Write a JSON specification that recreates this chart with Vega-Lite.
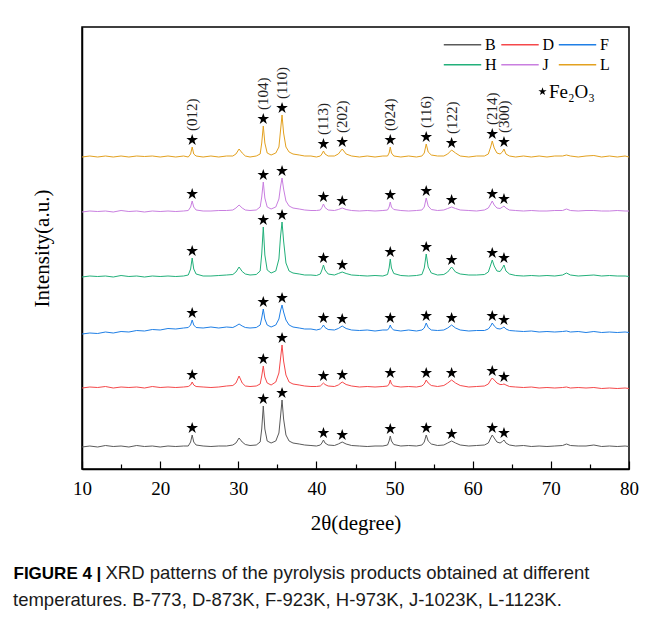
{
"$schema": "https://vega.github.io/schema/vega-lite/v6.json",
"width": 547, "height": 442,
"autosize": "none",
"padding": {"left": 82, "top": 27, "right": 26, "bottom": 151},
"background": "white",
"title": {
 "text": "temperatures. B-773, D-873K, F-923K, H-973K, J-1023K, L-1123K.",
 "orient": "bottom", "anchor": "start", "frame": "group", "dx": -69, "offset": 9,
 "font": "Liberation Sans", "fontSize": 18.5, "fontWeight": "normal", "color": "#1a1a1a"
},
"datasets": {
"lines": [
{"s":"B","t":10,"I":22},{"s":"B","t":11,"I":23},{"s":"B","t":12,"I":22},{"s":"B","t":13,"I":23.5},{"s":"B","t":14,"I":22.5},{"s":"B","t":15,"I":23},{"s":"B","t":16,"I":22},{"s":"B","t":17,"I":23.5},{"s":"B","t":18,"I":22.5},{"s":"B","t":19,"I":23},
{"s":"B","t":20,"I":22},{"s":"B","t":21,"I":23},{"s":"B","t":22,"I":22.5},{"s":"B","t":23,"I":23},{"s":"B","t":23.6,"I":23},{"s":"B","t":23.9,"I":27},{"s":"B","t":24.1,"I":34},{"s":"B","t":24.3,"I":27},{"s":"B","t":24.6,"I":24},{"s":"B","t":25.5,"I":23},
{"s":"B","t":26.5,"I":22.5},{"s":"B","t":27.5,"I":23},{"s":"B","t":28.5,"I":23},{"s":"B","t":29.3,"I":24},{"s":"B","t":29.7,"I":26},{"s":"B","t":30.1,"I":31},{"s":"B","t":30.5,"I":27},{"s":"B","t":30.9,"I":24.5},{"s":"B","t":31.5,"I":23.5},{"s":"B","t":32.3,"I":24},
{"s":"B","t":32.8,"I":27},{"s":"B","t":33.0,"I":40},{"s":"B","t":33.2,"I":63},{"s":"B","t":33.4,"I":40},{"s":"B","t":33.7,"I":28},{"s":"B","t":34.2,"I":26},{"s":"B","t":34.8,"I":28},{"s":"B","t":35.2,"I":36},{"s":"B","t":35.4,"I":52},{"s":"B","t":35.6,"I":69},
{"s":"B","t":35.8,"I":50},{"s":"B","t":36.1,"I":34},{"s":"B","t":36.5,"I":28},{"s":"B","t":37,"I":26},{"s":"B","t":37.8,"I":25},{"s":"B","t":38.5,"I":24},{"s":"B","t":39.3,"I":23.5},{"s":"B","t":40,"I":23},{"s":"B","t":40.5,"I":24},{"s":"B","t":40.7,"I":26},
{"s":"B","t":40.9,"I":29},{"s":"B","t":41.1,"I":26},{"s":"B","t":41.5,"I":24},{"s":"B","t":42.3,"I":23.5},{"s":"B","t":42.8,"I":25},{"s":"B","t":43.3,"I":27},{"s":"B","t":43.8,"I":25},{"s":"B","t":44.5,"I":23.5},{"s":"B","t":45.5,"I":23},{"s":"B","t":46.5,"I":22.5},
{"s":"B","t":47.5,"I":23},{"s":"B","t":48.5,"I":23},{"s":"B","t":49.1,"I":24},{"s":"B","t":49.3,"I":28},{"s":"B","t":49.45,"I":33},{"s":"B","t":49.6,"I":28},{"s":"B","t":49.9,"I":24.5},{"s":"B","t":50.8,"I":23},{"s":"B","t":51.8,"I":23.5},{"s":"B","t":52.8,"I":23},
{"s":"B","t":53.5,"I":24},{"s":"B","t":53.8,"I":27},{"s":"B","t":54.05,"I":34},{"s":"B","t":54.3,"I":28},{"s":"B","t":54.7,"I":25},{"s":"B","t":55.5,"I":23.5},{"s":"B","t":56.3,"I":24},{"s":"B","t":56.8,"I":26},{"s":"B","t":57.3,"I":28},{"s":"B","t":57.8,"I":26},
{"s":"B","t":58.4,"I":24},{"s":"B","t":59.5,"I":23},{"s":"B","t":60.5,"I":23.5},{"s":"B","t":61.5,"I":24},{"s":"B","t":62.0,"I":26},{"s":"B","t":62.3,"I":31},{"s":"B","t":62.5,"I":34},{"s":"B","t":62.75,"I":31},{"s":"B","t":63.1,"I":27},{"s":"B","t":63.5,"I":26},
{"s":"B","t":63.8,"I":27.5},{"s":"B","t":64.0,"I":29},{"s":"B","t":64.25,"I":26},{"s":"B","t":64.7,"I":24},{"s":"B","t":65.5,"I":23},{"s":"B","t":66.5,"I":23.5},{"s":"B","t":67.5,"I":22.5},{"s":"B","t":68.5,"I":23},{"s":"B","t":69.5,"I":22.5},{"s":"B","t":70.5,"I":23},
{"s":"B","t":71.5,"I":23.5},{"s":"B","t":72,"I":25},{"s":"B","t":72.5,"I":23.5},{"s":"B","t":73.5,"I":23},{"s":"B","t":74.5,"I":23},{"s":"B","t":75.5,"I":24},{"s":"B","t":76.5,"I":22.5},{"s":"B","t":77.5,"I":23},{"s":"B","t":78.5,"I":22.5},{"s":"B","t":79.5,"I":23},{"s":"B","t":80,"I":22.5},

{"s":"D","t":10,"I":81},{"s":"D","t":11,"I":82},{"s":"D","t":12,"I":81.5},{"s":"D","t":13,"I":82.5},{"s":"D","t":14,"I":81},{"s":"D","t":15,"I":82},{"s":"D","t":16,"I":81.5},{"s":"D","t":17,"I":82},{"s":"D","t":18,"I":81},{"s":"D","t":19,"I":82.5},
{"s":"D","t":20,"I":81.5},{"s":"D","t":21,"I":82},{"s":"D","t":22,"I":81.5},{"s":"D","t":23,"I":82},{"s":"D","t":23.6,"I":82.5},{"s":"D","t":23.9,"I":84},{"s":"D","t":24.1,"I":87},{"s":"D","t":24.3,"I":84},{"s":"D","t":24.6,"I":82.5},{"s":"D","t":25.5,"I":82},
{"s":"D","t":26.5,"I":81.5},{"s":"D","t":27.5,"I":82},{"s":"D","t":28.5,"I":83},{"s":"D","t":29.3,"I":83.5},{"s":"D","t":29.7,"I":86},{"s":"D","t":30.1,"I":93},{"s":"D","t":30.5,"I":86},{"s":"D","t":30.9,"I":83},{"s":"D","t":31.5,"I":82.5},{"s":"D","t":32.3,"I":83},
{"s":"D","t":32.8,"I":85},{"s":"D","t":33.0,"I":93},{"s":"D","t":33.2,"I":103},{"s":"D","t":33.4,"I":92},{"s":"D","t":33.7,"I":86},{"s":"D","t":34.2,"I":84},{"s":"D","t":34.8,"I":87},{"s":"D","t":35.2,"I":96},{"s":"D","t":35.4,"I":110},{"s":"D","t":35.6,"I":124},
{"s":"D","t":35.8,"I":108},{"s":"D","t":36.1,"I":94},{"s":"D","t":36.5,"I":87},{"s":"D","t":37,"I":85},{"s":"D","t":37.8,"I":84},{"s":"D","t":38.5,"I":83},{"s":"D","t":39.3,"I":82.5},{"s":"D","t":40,"I":82.5},{"s":"D","t":40.5,"I":83},{"s":"D","t":40.7,"I":84.5},
{"s":"D","t":40.9,"I":86},{"s":"D","t":41.1,"I":84.5},{"s":"D","t":41.5,"I":83},{"s":"D","t":42.3,"I":82.5},{"s":"D","t":42.8,"I":84},{"s":"D","t":43.3,"I":87},{"s":"D","t":43.8,"I":84.5},{"s":"D","t":44.5,"I":83},{"s":"D","t":45.5,"I":82},{"s":"D","t":46.5,"I":82.5},
{"s":"D","t":47.5,"I":82},{"s":"D","t":48.5,"I":82.5},{"s":"D","t":49.1,"I":83},{"s":"D","t":49.3,"I":85},{"s":"D","t":49.45,"I":89},{"s":"D","t":49.6,"I":85},{"s":"D","t":49.9,"I":83},{"s":"D","t":50.8,"I":82},{"s":"D","t":51.8,"I":82.5},{"s":"D","t":52.8,"I":82},
{"s":"D","t":53.5,"I":83},{"s":"D","t":53.8,"I":85},{"s":"D","t":54.05,"I":89},{"s":"D","t":54.3,"I":86},{"s":"D","t":54.7,"I":83.5},{"s":"D","t":55.5,"I":82.5},{"s":"D","t":56.3,"I":83.5},{"s":"D","t":56.8,"I":86},{"s":"D","t":57.3,"I":89},{"s":"D","t":57.8,"I":86},
{"s":"D","t":58.4,"I":83.5},{"s":"D","t":59.5,"I":82},{"s":"D","t":60.5,"I":82.5},{"s":"D","t":61.5,"I":83},{"s":"D","t":62.0,"I":85},{"s":"D","t":62.3,"I":89},{"s":"D","t":62.5,"I":91},{"s":"D","t":62.75,"I":89},{"s":"D","t":63.1,"I":86},{"s":"D","t":63.5,"I":84.5},
{"s":"D","t":63.8,"I":84.5},{"s":"D","t":64.0,"I":85},{"s":"D","t":64.25,"I":84},{"s":"D","t":64.7,"I":82.5},{"s":"D","t":65.5,"I":82},{"s":"D","t":66.5,"I":81.5},{"s":"D","t":67.5,"I":82},{"s":"D","t":68.5,"I":81},{"s":"D","t":69.5,"I":81.5},{"s":"D","t":70.5,"I":81},
{"s":"D","t":71.5,"I":81.5},{"s":"D","t":72,"I":82},{"s":"D","t":72.5,"I":81},{"s":"D","t":73.5,"I":81.5},{"s":"D","t":74.5,"I":81},{"s":"D","t":75.5,"I":81.5},{"s":"D","t":76.5,"I":80.5},{"s":"D","t":77.5,"I":81},{"s":"D","t":78.5,"I":80.5},{"s":"D","t":79.5,"I":81},{"s":"D","t":80,"I":80.5},

{"s":"F","t":10,"I":135},{"s":"F","t":11,"I":136},{"s":"F","t":12,"I":135.5},{"s":"F","t":13,"I":137},{"s":"F","t":14,"I":136},{"s":"F","t":15,"I":137.5},{"s":"F","t":16,"I":137},{"s":"F","t":17,"I":138.5},{"s":"F","t":18,"I":138},{"s":"F","t":19,"I":139.5},
{"s":"F","t":20,"I":139},{"s":"F","t":21,"I":140.5},{"s":"F","t":22,"I":140},{"s":"F","t":23,"I":141},{"s":"F","t":23.6,"I":141.5},{"s":"F","t":23.9,"I":144},{"s":"F","t":24.1,"I":149},{"s":"F","t":24.3,"I":144},{"s":"F","t":24.6,"I":141.5},{"s":"F","t":25.5,"I":141},
{"s":"F","t":26.5,"I":142},{"s":"F","t":27.5,"I":141},{"s":"F","t":28.5,"I":142},{"s":"F","t":29.3,"I":141.5},{"s":"F","t":29.7,"I":143},{"s":"F","t":30.1,"I":145},{"s":"F","t":30.5,"I":143},{"s":"F","t":30.9,"I":141.5},{"s":"F","t":31.5,"I":141},{"s":"F","t":32.3,"I":141.5},
{"s":"F","t":32.8,"I":144},{"s":"F","t":33.0,"I":151},{"s":"F","t":33.2,"I":160},{"s":"F","t":33.4,"I":150},{"s":"F","t":33.7,"I":144},{"s":"F","t":34.2,"I":142},{"s":"F","t":34.8,"I":144},{"s":"F","t":35.2,"I":150},{"s":"F","t":35.4,"I":158},{"s":"F","t":35.6,"I":164},
{"s":"F","t":35.8,"I":157},{"s":"F","t":36.1,"I":149},{"s":"F","t":36.5,"I":144},{"s":"F","t":37,"I":142},{"s":"F","t":37.8,"I":141},{"s":"F","t":38.5,"I":140},{"s":"F","t":39.3,"I":140},{"s":"F","t":40,"I":139},{"s":"F","t":40.5,"I":140},{"s":"F","t":40.7,"I":141.5},
{"s":"F","t":40.9,"I":144},{"s":"F","t":41.1,"I":141.5},{"s":"F","t":41.5,"I":139.5},{"s":"F","t":42.3,"I":139},{"s":"F","t":42.8,"I":140.5},{"s":"F","t":43.3,"I":143},{"s":"F","t":43.8,"I":140.5},{"s":"F","t":44.5,"I":139},{"s":"F","t":45.5,"I":138.5},{"s":"F","t":46.5,"I":139},
{"s":"F","t":47.5,"I":138},{"s":"F","t":48.5,"I":139},{"s":"F","t":49.1,"I":139},{"s":"F","t":49.3,"I":141},{"s":"F","t":49.45,"I":144},{"s":"F","t":49.6,"I":141},{"s":"F","t":49.9,"I":139},{"s":"F","t":50.8,"I":138},{"s":"F","t":51.8,"I":139},{"s":"F","t":52.8,"I":138},
{"s":"F","t":53.5,"I":139},{"s":"F","t":53.8,"I":141},{"s":"F","t":54.05,"I":146},{"s":"F","t":54.3,"I":141.5},{"s":"F","t":54.7,"I":139},{"s":"F","t":55.5,"I":138.5},{"s":"F","t":56.3,"I":139},{"s":"F","t":56.8,"I":141},{"s":"F","t":57.3,"I":144},{"s":"F","t":57.8,"I":141},
{"s":"F","t":58.4,"I":139},{"s":"F","t":59.5,"I":138},{"s":"F","t":60.5,"I":138.5},{"s":"F","t":61.5,"I":138.5},{"s":"F","t":62.0,"I":140},{"s":"F","t":62.3,"I":143},{"s":"F","t":62.5,"I":146},{"s":"F","t":62.75,"I":143},{"s":"F","t":63.1,"I":140.5},{"s":"F","t":63.5,"I":140},
{"s":"F","t":63.8,"I":141},{"s":"F","t":64.0,"I":142},{"s":"F","t":64.25,"I":140},{"s":"F","t":64.7,"I":138.5},{"s":"F","t":65.5,"I":138},{"s":"F","t":66.5,"I":137.5},{"s":"F","t":67.5,"I":138},{"s":"F","t":68.5,"I":137},{"s":"F","t":69.5,"I":137.5},{"s":"F","t":70.5,"I":137},
{"s":"F","t":71.5,"I":137.5},{"s":"F","t":72,"I":138},{"s":"F","t":72.5,"I":137},{"s":"F","t":73.5,"I":137.5},{"s":"F","t":74.5,"I":136.5},{"s":"F","t":75.5,"I":137.5},{"s":"F","t":76.5,"I":136.5},{"s":"F","t":77.5,"I":137},{"s":"F","t":78.5,"I":136.5},{"s":"F","t":79.5,"I":137},{"s":"F","t":80,"I":136.5},

{"s":"H","t":10,"I":192},{"s":"H","t":11,"I":193},{"s":"H","t":12,"I":192.5},{"s":"H","t":13,"I":193},{"s":"H","t":14,"I":192},{"s":"H","t":15,"I":193.5},{"s":"H","t":16,"I":192.5},{"s":"H","t":17,"I":193},{"s":"H","t":18,"I":192},{"s":"H","t":19,"I":193},
{"s":"H","t":20,"I":192.5},{"s":"H","t":21,"I":193},{"s":"H","t":22,"I":192.5},{"s":"H","t":23,"I":193},{"s":"H","t":23.6,"I":194},{"s":"H","t":23.9,"I":200},{"s":"H","t":24.1,"I":211},{"s":"H","t":24.3,"I":200},{"s":"H","t":24.6,"I":195},{"s":"H","t":25.5,"I":193},
{"s":"H","t":26.5,"I":193},{"s":"H","t":27.5,"I":193.5},{"s":"H","t":28.5,"I":194},{"s":"H","t":29.3,"I":194.5},{"s":"H","t":29.7,"I":197},{"s":"H","t":30.1,"I":202},{"s":"H","t":30.5,"I":197.5},{"s":"H","t":30.9,"I":195},{"s":"H","t":31.5,"I":194},{"s":"H","t":32.3,"I":194.5},
{"s":"H","t":32.8,"I":198},{"s":"H","t":33.0,"I":215},{"s":"H","t":33.2,"I":242},{"s":"H","t":33.4,"I":214},{"s":"H","t":33.7,"I":199},{"s":"H","t":34.2,"I":196},{"s":"H","t":34.8,"I":198},{"s":"H","t":35.2,"I":210},{"s":"H","t":35.4,"I":232},{"s":"H","t":35.6,"I":247},
{"s":"H","t":35.8,"I":228},{"s":"H","t":36.1,"I":206},{"s":"H","t":36.5,"I":198},{"s":"H","t":37,"I":196},{"s":"H","t":37.8,"I":195},{"s":"H","t":38.5,"I":194},{"s":"H","t":39.3,"I":194},{"s":"H","t":40,"I":193.5},{"s":"H","t":40.5,"I":195},{"s":"H","t":40.7,"I":199},
{"s":"H","t":40.9,"I":204},{"s":"H","t":41.1,"I":199},{"s":"H","t":41.5,"I":195},{"s":"H","t":42.3,"I":194},{"s":"H","t":42.8,"I":195.5},{"s":"H","t":43.3,"I":197},{"s":"H","t":43.8,"I":195.5},{"s":"H","t":44.5,"I":194},{"s":"H","t":45.5,"I":193.5},{"s":"H","t":46.5,"I":193},
{"s":"H","t":47.5,"I":193.5},{"s":"H","t":48.5,"I":193},{"s":"H","t":49.1,"I":194.5},{"s":"H","t":49.3,"I":201},{"s":"H","t":49.45,"I":210},{"s":"H","t":49.6,"I":201},{"s":"H","t":49.9,"I":195.5},{"s":"H","t":50.8,"I":193.5},{"s":"H","t":51.8,"I":193},{"s":"H","t":52.8,"I":193.5},
{"s":"H","t":53.5,"I":194.5},{"s":"H","t":53.8,"I":201},{"s":"H","t":54.05,"I":215},{"s":"H","t":54.3,"I":202},{"s":"H","t":54.7,"I":196},{"s":"H","t":55.5,"I":194},{"s":"H","t":56.3,"I":194.5},{"s":"H","t":56.8,"I":197},{"s":"H","t":57.3,"I":202},{"s":"H","t":57.8,"I":197},
{"s":"H","t":58.4,"I":195},{"s":"H","t":59.5,"I":194},{"s":"H","t":60.5,"I":194},{"s":"H","t":61.5,"I":194.5},{"s":"H","t":62.0,"I":197},{"s":"H","t":62.3,"I":204},{"s":"H","t":62.5,"I":209},{"s":"H","t":62.75,"I":203},{"s":"H","t":63.1,"I":198},{"s":"H","t":63.5,"I":197.5},
{"s":"H","t":63.8,"I":201},{"s":"H","t":64.0,"I":204},{"s":"H","t":64.25,"I":198},{"s":"H","t":64.7,"I":195},{"s":"H","t":65.5,"I":193.5},{"s":"H","t":66.5,"I":193},{"s":"H","t":67.5,"I":193.5},{"s":"H","t":68.5,"I":193},{"s":"H","t":69.5,"I":193.5},{"s":"H","t":70.5,"I":193},
{"s":"H","t":71.5,"I":194},{"s":"H","t":72,"I":196},{"s":"H","t":72.5,"I":194},{"s":"H","t":73.5,"I":193},{"s":"H","t":74.5,"I":193.5},{"s":"H","t":75.5,"I":194},{"s":"H","t":76.5,"I":193},{"s":"H","t":77.5,"I":193.5},{"s":"H","t":78.5,"I":193},{"s":"H","t":79.5,"I":193},{"s":"H","t":80,"I":192.5},

{"s":"J","t":10,"I":257},{"s":"J","t":11,"I":258},{"s":"J","t":12,"I":257.5},{"s":"J","t":13,"I":258},{"s":"J","t":14,"I":257},{"s":"J","t":15,"I":258.5},{"s":"J","t":16,"I":257.5},{"s":"J","t":17,"I":258},{"s":"J","t":18,"I":257},{"s":"J","t":19,"I":258},
{"s":"J","t":20,"I":257.5},{"s":"J","t":21,"I":258},{"s":"J","t":22,"I":257.5},{"s":"J","t":23,"I":258},{"s":"J","t":23.6,"I":258.5},{"s":"J","t":23.9,"I":262},{"s":"J","t":24.1,"I":268},{"s":"J","t":24.3,"I":262},{"s":"J","t":24.6,"I":259},{"s":"J","t":25.5,"I":258},
{"s":"J","t":26.5,"I":258},{"s":"J","t":27.5,"I":258.5},{"s":"J","t":28.5,"I":258.5},{"s":"J","t":29.3,"I":259},{"s":"J","t":29.7,"I":261},{"s":"J","t":30.1,"I":264},{"s":"J","t":30.5,"I":261},{"s":"J","t":30.9,"I":259},{"s":"J","t":31.5,"I":258.5},{"s":"J","t":32.3,"I":259},
{"s":"J","t":32.8,"I":262},{"s":"J","t":33.0,"I":272},{"s":"J","t":33.2,"I":287},{"s":"J","t":33.4,"I":271},{"s":"J","t":33.7,"I":262},{"s":"J","t":34.2,"I":260},{"s":"J","t":34.8,"I":262},{"s":"J","t":35.2,"I":270},{"s":"J","t":35.4,"I":282},{"s":"J","t":35.6,"I":291},
{"s":"J","t":35.8,"I":280},{"s":"J","t":36.1,"I":268},{"s":"J","t":36.5,"I":263},{"s":"J","t":37,"I":261},{"s":"J","t":37.8,"I":260},{"s":"J","t":38.5,"I":259},{"s":"J","t":39.3,"I":258.5},{"s":"J","t":40,"I":258.5},{"s":"J","t":40.5,"I":259},{"s":"J","t":40.7,"I":261.5},
{"s":"J","t":40.9,"I":265},{"s":"J","t":41.1,"I":261.5},{"s":"J","t":41.5,"I":259},{"s":"J","t":42.3,"I":258.5},{"s":"J","t":42.8,"I":259.5},{"s":"J","t":43.3,"I":261},{"s":"J","t":43.8,"I":259.5},{"s":"J","t":44.5,"I":258.5},{"s":"J","t":45.5,"I":258},{"s":"J","t":46.5,"I":258.5},
{"s":"J","t":47.5,"I":258},{"s":"J","t":48.5,"I":258.5},{"s":"J","t":49.1,"I":259},{"s":"J","t":49.3,"I":262},{"s":"J","t":49.45,"I":267},{"s":"J","t":49.6,"I":262},{"s":"J","t":49.9,"I":259.5},{"s":"J","t":50.8,"I":258.5},{"s":"J","t":51.8,"I":258},{"s":"J","t":52.8,"I":258.5},
{"s":"J","t":53.5,"I":259},{"s":"J","t":53.8,"I":262},{"s":"J","t":54.05,"I":271},{"s":"J","t":54.3,"I":263},{"s":"J","t":54.7,"I":259.5},{"s":"J","t":55.5,"I":258.5},{"s":"J","t":56.3,"I":259},{"s":"J","t":56.8,"I":260.5},{"s":"J","t":57.3,"I":262},{"s":"J","t":57.8,"I":260.5},
{"s":"J","t":58.4,"I":259},{"s":"J","t":59.5,"I":258.5},{"s":"J","t":60.5,"I":258},{"s":"J","t":61.5,"I":259},{"s":"J","t":62.0,"I":261},{"s":"J","t":62.3,"I":265},{"s":"J","t":62.5,"I":268},{"s":"J","t":62.75,"I":264},{"s":"J","t":63.1,"I":261},{"s":"J","t":63.5,"I":260.5},
{"s":"J","t":63.8,"I":262},{"s":"J","t":64.0,"I":263},{"s":"J","t":64.25,"I":261},{"s":"J","t":64.7,"I":259},{"s":"J","t":65.5,"I":258.5},{"s":"J","t":66.5,"I":258},{"s":"J","t":67.5,"I":258.5},{"s":"J","t":68.5,"I":258},{"s":"J","t":69.5,"I":258},{"s":"J","t":70.5,"I":258.5},
{"s":"J","t":71.5,"I":258.5},{"s":"J","t":72,"I":260},{"s":"J","t":72.5,"I":258.5},{"s":"J","t":73.5,"I":258},{"s":"J","t":74.5,"I":258.5},{"s":"J","t":75.5,"I":258.5},{"s":"J","t":76.5,"I":258},{"s":"J","t":77.5,"I":258},{"s":"J","t":78.5,"I":258.5},{"s":"J","t":79.5,"I":258},{"s":"J","t":80,"I":258},

{"s":"L","t":10,"I":312},{"s":"L","t":11,"I":313},{"s":"L","t":12,"I":312},{"s":"L","t":13,"I":313},{"s":"L","t":14,"I":312},{"s":"L","t":15,"I":313},{"s":"L","t":16,"I":312},{"s":"L","t":17,"I":313},{"s":"L","t":18,"I":312.5},{"s":"L","t":19,"I":313},
{"s":"L","t":20,"I":312},{"s":"L","t":21,"I":313},{"s":"L","t":22,"I":312},{"s":"L","t":23,"I":313},{"s":"L","t":23.6,"I":312},{"s":"L","t":23.9,"I":315},{"s":"L","t":24.1,"I":322},{"s":"L","t":24.3,"I":315},{"s":"L","t":24.6,"I":313},{"s":"L","t":25.5,"I":312},
{"s":"L","t":26.5,"I":313},{"s":"L","t":27.5,"I":312},{"s":"L","t":28.5,"I":313},{"s":"L","t":29.3,"I":313},{"s":"L","t":29.7,"I":315},{"s":"L","t":30.1,"I":320},{"s":"L","t":30.5,"I":316},{"s":"L","t":30.9,"I":313},{"s":"L","t":31.5,"I":312},{"s":"L","t":32.3,"I":313},
{"s":"L","t":32.8,"I":315},{"s":"L","t":33.0,"I":326},{"s":"L","t":33.2,"I":343},{"s":"L","t":33.4,"I":326},{"s":"L","t":33.7,"I":316},{"s":"L","t":34.2,"I":314},{"s":"L","t":34.8,"I":316},{"s":"L","t":35.2,"I":322},{"s":"L","t":35.4,"I":338},{"s":"L","t":35.6,"I":354},
{"s":"L","t":35.8,"I":336},{"s":"L","t":36.1,"I":322},{"s":"L","t":36.5,"I":317},{"s":"L","t":37,"I":315},{"s":"L","t":37.8,"I":314},{"s":"L","t":38.5,"I":313},{"s":"L","t":39.3,"I":313},{"s":"L","t":40,"I":312},{"s":"L","t":40.5,"I":313},{"s":"L","t":40.7,"I":315},
{"s":"L","t":40.9,"I":318},{"s":"L","t":41.1,"I":315},{"s":"L","t":41.5,"I":313},{"s":"L","t":42.3,"I":313},{"s":"L","t":42.8,"I":315},{"s":"L","t":43.3,"I":320},{"s":"L","t":43.8,"I":315},{"s":"L","t":44.5,"I":313},{"s":"L","t":45.5,"I":312},{"s":"L","t":46.5,"I":313},
{"s":"L","t":47.5,"I":312},{"s":"L","t":48.5,"I":313},{"s":"L","t":49.1,"I":313},{"s":"L","t":49.3,"I":316},{"s":"L","t":49.45,"I":322},{"s":"L","t":49.6,"I":316},{"s":"L","t":49.9,"I":313},{"s":"L","t":50.8,"I":312},{"s":"L","t":51.8,"I":313},{"s":"L","t":52.8,"I":312},
{"s":"L","t":53.5,"I":313},{"s":"L","t":53.8,"I":316},{"s":"L","t":54.05,"I":325},{"s":"L","t":54.3,"I":317},{"s":"L","t":54.7,"I":314},{"s":"L","t":55.5,"I":313},{"s":"L","t":56.3,"I":313},{"s":"L","t":56.8,"I":315},{"s":"L","t":57.3,"I":319},{"s":"L","t":57.8,"I":316},
{"s":"L","t":58.4,"I":313},{"s":"L","t":59.5,"I":312},{"s":"L","t":60.5,"I":313},{"s":"L","t":61.5,"I":313},{"s":"L","t":62.0,"I":315},{"s":"L","t":62.3,"I":322},{"s":"L","t":62.5,"I":328},{"s":"L","t":62.75,"I":321},{"s":"L","t":63.1,"I":316},{"s":"L","t":63.5,"I":315},
{"s":"L","t":63.8,"I":317},{"s":"L","t":64.0,"I":320},{"s":"L","t":64.25,"I":315},{"s":"L","t":64.7,"I":313},{"s":"L","t":65.5,"I":312},{"s":"L","t":66.5,"I":313},{"s":"L","t":67.5,"I":312},{"s":"L","t":68.5,"I":313},{"s":"L","t":69.5,"I":312},{"s":"L","t":70.5,"I":313},
{"s":"L","t":71.5,"I":313},{"s":"L","t":72,"I":314},{"s":"L","t":72.5,"I":313},{"s":"L","t":73.5,"I":312},{"s":"L","t":74.5,"I":313},{"s":"L","t":75.5,"I":313.5},{"s":"L","t":76.5,"I":312},{"s":"L","t":77.5,"I":313},{"s":"L","t":78.5,"I":312},{"s":"L","t":79.5,"I":313},{"s":"L","t":80,"I":312}
],
"peaks": [
{"s":"B","t":24.1,"I":34,"hkl":"(012)"},{"s":"B","t":33.2,"I":63,"hkl":"(104)"},{"s":"B","t":35.6,"I":69,"hkl":"(110)"},{"s":"B","t":40.9,"I":29,"hkl":"(113)"},{"s":"B","t":43.3,"I":27,"hkl":"(202)"},{"s":"B","t":49.45,"I":33,"hkl":"(024)"},{"s":"B","t":54.05,"I":34,"hkl":"(116)"},{"s":"B","t":57.3,"I":28,"hkl":"(122)"},{"s":"B","t":62.5,"I":34,"hkl":"(214)"},{"s":"B","t":64.0,"I":29,"hkl":"(300)"},
{"s":"D","t":24.1,"I":87,"hkl":"(012)"},{"s":"D","t":33.2,"I":103,"hkl":"(104)"},{"s":"D","t":35.6,"I":124,"hkl":"(110)"},{"s":"D","t":40.9,"I":86,"hkl":"(113)"},{"s":"D","t":43.3,"I":87,"hkl":"(202)"},{"s":"D","t":49.45,"I":89,"hkl":"(024)"},{"s":"D","t":54.05,"I":89,"hkl":"(116)"},{"s":"D","t":57.3,"I":89,"hkl":"(122)"},{"s":"D","t":62.5,"I":91,"hkl":"(214)"},{"s":"D","t":64.0,"I":85,"hkl":"(300)"},
{"s":"F","t":24.1,"I":149,"hkl":"(012)"},{"s":"F","t":33.2,"I":160,"hkl":"(104)"},{"s":"F","t":35.6,"I":164,"hkl":"(110)"},{"s":"F","t":40.9,"I":144,"hkl":"(113)"},{"s":"F","t":43.3,"I":143,"hkl":"(202)"},{"s":"F","t":49.45,"I":144,"hkl":"(024)"},{"s":"F","t":54.05,"I":146,"hkl":"(116)"},{"s":"F","t":57.3,"I":144,"hkl":"(122)"},{"s":"F","t":62.5,"I":146,"hkl":"(214)"},{"s":"F","t":64.0,"I":142,"hkl":"(300)"},
{"s":"H","t":24.1,"I":211,"hkl":"(012)"},{"s":"H","t":33.2,"I":242,"hkl":"(104)"},{"s":"H","t":35.6,"I":247,"hkl":"(110)"},{"s":"H","t":40.9,"I":204,"hkl":"(113)"},{"s":"H","t":43.3,"I":197,"hkl":"(202)"},{"s":"H","t":49.45,"I":210,"hkl":"(024)"},{"s":"H","t":54.05,"I":215,"hkl":"(116)"},{"s":"H","t":57.3,"I":202,"hkl":"(122)"},{"s":"H","t":62.5,"I":209,"hkl":"(214)"},{"s":"H","t":64.0,"I":204,"hkl":"(300)"},
{"s":"J","t":24.1,"I":268,"hkl":"(012)"},{"s":"J","t":33.2,"I":287,"hkl":"(104)"},{"s":"J","t":35.6,"I":291,"hkl":"(110)"},{"s":"J","t":40.9,"I":265,"hkl":"(113)"},{"s":"J","t":43.3,"I":261,"hkl":"(202)"},{"s":"J","t":49.45,"I":267,"hkl":"(024)"},{"s":"J","t":54.05,"I":271,"hkl":"(116)"},{"s":"J","t":57.3,"I":262,"hkl":"(122)"},{"s":"J","t":62.5,"I":268,"hkl":"(214)"},{"s":"J","t":64.0,"I":263,"hkl":"(300)"},
{"s":"L","t":24.1,"I":322,"hkl":"(012)"},{"s":"L","t":33.2,"I":343,"hkl":"(104)"},{"s":"L","t":35.6,"I":354,"hkl":"(110)"},{"s":"L","t":40.9,"I":318,"hkl":"(113)"},{"s":"L","t":43.3,"I":320,"hkl":"(202)"},{"s":"L","t":49.45,"I":322,"hkl":"(024)"},{"s":"L","t":54.05,"I":325,"hkl":"(116)"},{"s":"L","t":57.3,"I":319,"hkl":"(122)"},{"s":"L","t":62.5,"I":328,"hkl":"(214)"},{"s":"L","t":64.0,"I":320,"hkl":"(300)"}
]
},
"layer": [
 {
  "data": {"name": "lines"},
  "transform": [{"filter": "datum.s === 'B' || datum.s === 'D' || datum.s === 'F'"}],
  "mark": {"type": "line", "strokeWidth": 1},
  "encoding": {
   "x": {"field": "t", "type": "quantitative", "scale": {"domain": [10, 80], "nice": false, "zero": false},
         "axis": {"orient": "bottom", "values": [10,20,30,40,50,60,70,80], "tickSize": -8, "labelPadding": 18, "labelFontSize": 19, "labelFlush": false, "labelOverlap": false, "title": "2θ(degree)", "titleFontSize": 21, "titlePadding": 14}},
   "y": {"field": "I", "type": "quantitative", "scale": {"domain": [0, 442], "nice": false, "zero": false},
         "axis": {"ticks": false, "labels": false, "title": "Intensity(a.u.)", "titleFontSize": 21, "titlePadding": 30}},
   "color": {"field": "s", "type": "nominal",
     "scale": {"domain": ["B","D","F"], "range": ["#5a5a5a","#f5484a","#1f7fe6"]},
     "legend": {"title": null, "orient": "none", "direction": "horizontal", "gridAlign": "all", "legendX": 361, "legendY": -2, "symbolType": "stroke", "symbolSize": 1400, "symbolStrokeWidth": 1.5, "labelFont": "Liberation Serif", "labelFontSize": 16, "labelColor": "black", "labelOffset": 3, "columnPadding": 0.5, "padding": 0}}
  }
 },
 {
  "data": {"name": "lines"},
  "transform": [{"filter": "datum.s === 'H' || datum.s === 'J' || datum.s === 'L'"}],
  "mark": {"type": "line", "strokeWidth": 1},
  "encoding": {
   "x": {"field": "t", "type": "quantitative", "axis": null},
   "y": {"field": "I", "type": "quantitative", "axis": {"ticks": false, "labels": false, "title": "Intensity(a.u.)", "titleFontSize": 21, "titlePadding": 30}},
   "stroke": {"field": "s", "type": "nominal",
     "scale": {"domain": ["H","J","L"], "range": ["#22b07a","#c97fe0","#e3a11f"]},
     "legend": {"title": null, "orient": "none", "direction": "horizontal", "gridAlign": "all", "legendX": 361, "legendY": 18, "symbolType": "stroke", "symbolSize": 1400, "symbolStrokeWidth": 1.5, "labelFont": "Liberation Serif", "labelFontSize": 16, "labelColor": "black", "labelOffset": 3, "columnPadding": 0.5, "padding": 0}}
  }
 },
 {
  "data": {"name": "peaks"},
  "mark": {"type": "point", "filled": true, "color": "black", "size": 150, "yOffset": -7, "opacity": 1},
  "encoding": {
   "x": {"field": "t", "type": "quantitative", "axis": {"orient": "bottom", "values": [15,25,35,45,55,65,75], "tickSize": -5, "labels": false, "domain": false,
      "title": "FIGURE 4 |", "titleX": -69, "titleY": 109, "titleAlign": "left", "titleBaseline": "alphabetic", "titleAngle": 0, "titleFont": "Liberation Sans", "titleFontSize": 17, "titleFontWeight": "bold", "titleColor": "black"}},
   "y": {"field": "I", "type": "quantitative", "axis": {"ticks": false, "labels": false, "title": "Intensity(a.u.)", "titleFontSize": 21, "titlePadding": 30}},
   "shape": {"datum": "Fe₂O₃", "scale": {"range": ["M0,-1L0.2245,-0.309L0.951,-0.309L0.363,0.118L0.588,0.809L0,0.382L-0.588,0.809L-0.363,0.118L-0.951,-0.309L-0.2245,-0.309Z"]},
     "legend": {"title": null, "orient": "none", "legendX": 451, "legendY": 55, "symbolSize": 75, "symbolFillColor": "black", "symbolStrokeColor": "black", "labelFont": "Liberation Serif", "labelFontSize": 19, "labelColor": "black", "labelOffset": -3, "padding": 0}}
  }
 },
 {
  "data": {"name": "peaks"},
  "transform": [{"filter": "datum.s === 'L'"}],
  "mark": {"type": "text", "angle": 270, "align": "left", "baseline": "middle", "dx": 16, "font": "Liberation Serif", "fontSize": 15, "color": "#222"},
  "encoding": {
   "x": {"field": "t", "type": "quantitative", "axis": {"orient": "bottom", "values": [], "ticks": false, "labels": false, "domain": false,
      "title": "XRD patterns of the pyrolysis products obtained at different", "titleX": 23, "titleY": 109, "titleAlign": "left", "titleBaseline": "alphabetic", "titleAngle": 0, "titleFont": "Liberation Sans", "titleFontSize": 18.5, "titleFontWeight": "normal", "titleColor": "#1a1a1a"}},
   "y": {"field": "I", "type": "quantitative", "axis": {"ticks": false, "labels": false, "title": "Intensity(a.u.)", "titleFontSize": 21, "titlePadding": 30}},
   "text": {"field": "hkl"}
  }
 }
],
"resolve": {"axis": {"x": "independent"}},
"config": {
 "view": {"stroke": "black", "strokeWidth": 1.5},
 "axis": {"domainColor": "black", "domainWidth": 1.5, "tickColor": "black", "tickWidth": 1.2, "labelColor": "black", "titleColor": "black", "labelFont": "Liberation Serif", "titleFont": "Liberation Serif", "titleFontWeight": "normal", "grid": false}
}
}
